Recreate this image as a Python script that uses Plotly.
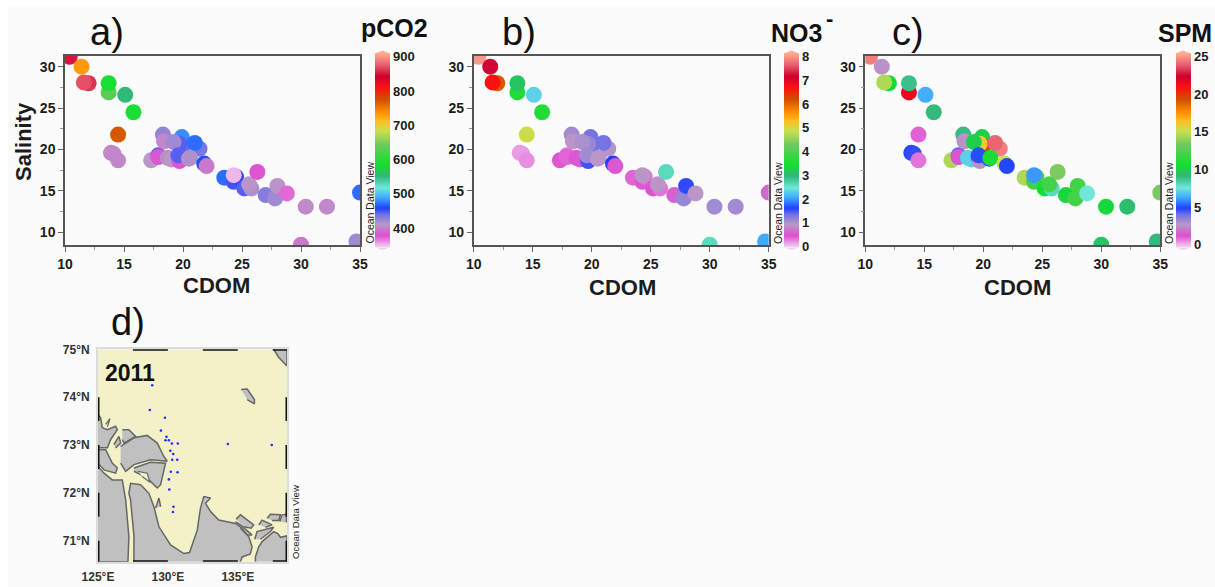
import plotly.graph_objects as go

W, H = 1215, 587

cdom = [10.4, 11.4, 12.0, 11.6, 13.7, 13.7, 15.1, 15.8, 14.5, 13.9, 14.1, 14.5, 17.3, 17.9, 17.9,
        18.3, 18.4, 18.7, 19.0, 19.9, 20.0, 19.7, 19.2, 19.6, 19.7, 19.6, 20.5, 21.4, 21.0, 20.6,
        21.8, 22.0, 23.5, 24.3, 24.5, 24.3, 25.2, 25.8, 25.6, 26.3, 27.0, 27.8, 28.0, 28.8,
        30.4, 32.2, 30.0, 34.7, 35.0]
salinity = [31.2, 30.0, 28.0, 28.1, 26.9, 28.0, 26.6, 24.5, 21.8, 19.6, 19.5, 18.7, 18.7, 19.3, 19.1,
            21.8, 21.0, 19.0, 18.8, 21.5, 20.4, 20.7, 20.9, 19.0, 18.6, 19.3, 18.9, 20.1, 20.8, 19.0,
            18.3, 18.0, 16.6, 16.1, 16.7, 16.9, 15.3, 15.3, 15.8, 17.3, 14.5, 14.1, 15.6, 14.7,
            13.1, 13.1, 8.5, 8.9, 14.8]
pco2 = [850, 730, 860, 870, 630, 590, 550, 590, 770, 402, 402, 402, 410, 445, 380,
        425, 402, 405, 410, 480, 440, 445, 420, 405, 375, 445, 402, 435, 470, 415,
        460, 395, 470, 450, 455, 350, 445, 415, 408, 375, 430, 420, 408, 370,
        403, 403, 395, 420, 470]
no3 = [8.0, 7.2, 6.1, 6.7, 3.6, 3.1, 2.3, 3.6, 4.9, 0.15, 0.15, 0.2, 0.4, 0.3, 0.35,
       1.05, 0.9, 0.4, 0.4, 1.3, 1.3, 1.1, 1.0, 0.5, 1.5, 1.05, 0.9, 0.95, 1.3, 0.9,
       1.6, 0.4, 0.35, 0.4, 0.3, 0.9, 0.45, 0.3, 0.9, 2.6, 0.55, 1.1, 1.55, 0.9,
       1.05, 1.05, 2.6, 2.05, 0.6]
spm = [24.5, 2.5, 10.5, 14.5, 21.5, 8.8, 6.3, 9.0, 0.9, 4.7, 4.6, 0.7, 14.5, 4.2, 1.2,
       8.9, 2.5, 7.0, 7.0, 10.0, 19.5, 16.0, 10.0, 5.5, 2.5, 5.0, 5.0, 24.5, 24.0, 11.0,
       15.0, 4.9, 14.5, 12.0, 12.0, 6.0, 10.5, 8.0, 12.0, 13.5, 10.3, 12.0, 12.0, 7.5,
       10.3, 9.3, 9.5, 9.0, 13.5]

station_lon = [128.88, 128.71, 129.79, 129.5, 129.9, 129.83, 130.07, 130.29, 130.71, 130.17, 130.38,
               130.31, 130.67, 130.21, 130.69, 130.07, 130.1, 130.4, 130.36, 134.29, 137.43]
station_lat = [74.25, 73.73, 73.57, 73.3, 73.17, 73.1, 73.1, 73.03, 73.03, 72.88, 72.81,
               72.69, 72.69, 72.44, 72.43, 72.28, 72.07, 71.71, 71.6, 73.02, 73.0]

land_lon = [127.57, 127.57, 127.33, 127.21, 127.33, 128.05, 128.64, 129.0, 129.36, 130.19, 131.14, 131.55,
            132.1, 132.33, 132.57, 133.05, 132.69, 133.05, 133.64, 134.83, 135.19, 135.79, 136.02, 135.9,
            135.31, 135.19, None,
            125, 125.43, 126.02, 126.74, 126.98, 127.21, 127.14, 125, None,
            125, 125.19, 125.31, 125.67, 126.26, 126.38, 125.9, 125.67, 125, None,
            125, 125.55, 126.02, 126.38, 126.26, 125.43, 125, None,
            126.74, 127.21, 127.69, 126.86, 126.74, None,
            126.14, 126.5, 126.62, 126.26, None,
            126.62, 127.57, 128.52, 129.24, 129.71, 129.95, 128.76, 127.57, 126.98, 126.62, None,
            127.57, 128.76, 129.83, 129.48, 129.24, 128.64, 128.05, 127.57, None,
            129.12, 129.36, 129.48, None,
            137.57, 137.93, 138.52, 138.52, None,
            135.24, 135.67, 136.19, 136.19, 135.67, None,
            136.26, 136.26, 136.5, 136.74, 137.57, 137.86, 138.05, 138.4, 138.52, 138.52, None,
            134.88, 135.19, 136.14, 135.95, 135.43, None,
            134.83, 135.19, 136.02, 135.67, 135.19, None,
            136.21, 136.38, 137.57, 137.33, 136.62, None,
            136.5, 136.74, 137.45, 136.98, None,
            137.1, 137.33, 138.05, 137.93, 137.45, None,
            138.0, 138.17, 138.48, 138.48]
land_lat = [70.56, 71.1, 71.85, 71.99, 72.2, 72.17, 71.99, 71.71, 71.29, 70.91, 70.73, 70.75,
            71.22, 71.68, 71.92, 71.89, 71.78, 71.61, 71.43, 71.36, 71.29, 71.08, 70.87, 70.72,
            70.66, 70.56, None,
            72.55, 72.41, 72.27, 72.27, 71.85, 71.08, 70.56, 70.56, None,
            73.64, 73.57, 73.36, 73.32, 73.39, 73.32, 73.11, 72.94, 72.94, None,
            72.9, 72.9, 72.62, 72.52, 72.41, 72.48, 72.62, None,
            73.32, 73.32, 73.18, 73.04, 73.11, None,
            73.01, 73.18, 73.04, 72.94, None,
            72.97, 73.15, 73.2, 73.04, 72.76, 72.66, 72.69, 72.59, 72.45, 72.62, None,
            72.52, 72.64, 72.62, 72.17, 72.1, 72.27, 72.38, 72.45, None,
            71.68, 71.89, 71.71, None,
            75, 74.83, 74.65, 75, None,
            74.16, 74.17, 73.95, 73.86, 73.95, None,
            70.56, 70.66, 70.87, 70.98, 71.19, 71.15, 71.07, 71.1, 71.1, 70.56, None,
            71.45, 71.54, 71.33, 71.26, 71.29, None,
            71.4, 71.33, 71.12, 71.12, 71.26, None,
            71.03, 71.19, 71.28, 71.19, 71.03, None,
            71.33, 71.43, 71.33, 71.28, None,
            71.47, 71.55, 71.54, 71.42, 71.42, None,
            71.4, 71.54, 71.55, 71.38]
lake_lon = [127.86, 128.52, 128.71, 128.17, None, 125.55, 125.86, 125.67]
lake_lat = [72.45, 72.41, 72.22, 72.34, None, 73.43, 73.55, 73.38]

frame_lon = [127.5, 130, None, 132.5, 135, None, 137.5, 138.52]
frame_lat = [74, 73.5, None, 73, 72.5, None, 72, 71.5, None, 71, 70.56]

odv = [[0, "#f2d0f0"], [.057, "#dd50d0"], [.117, "#b898c8"], [.168, "#7070e8"], [.2, "#2040ff"],
       [.254, "#40a8ff"], [.305, "#70e8d8"], [.365, "#30b878"], [.425, "#10e030"], [.528, "#70c860"],
       [.597, "#c8e050"], [.648, "#ffc020"], [.70, "#ff8800"], [.76, "#d05000"], [.82, "#ff1010"],
       [.88, "#d00030"], [.94, "#e86070"], [1, "#ffb090"]]

FONT = "Liberation Sans"
INK = "#1c1c1c"
YELLOW = "#f3f1c8"
def px_x(a, b): return [a / W, b / W]
def px_y(a, b): return [1 - b / H, 1 - a / H]

panels = [
    dict(vals=pco2, cmin=344, cmax=910, ticks=[400, 500, 600, 700, 800, 900], left=65.0, bar=375.0),
    dict(vals=no3, cmin=-0.04, cmax=8.15, ticks=list(range(9)), left=473.7, bar=784.0),
    dict(vals=spm, cmin=-0.36, cmax=25.45, ticks=[0, 5, 10, 15, 20, 25], left=865.3, bar=1175.5),
]

fig = go.Figure()
layout = dict(width=W, height=H, margin=dict(l=0, r=0, t=0, b=0, autoexpand=False), paper_bgcolor="white",
              plot_bgcolor="#fbfbfb", showlegend=False, font=dict(family=FONT, color=INK))
shapes = [dict(type="rect", xref="paper", yref="paper", x0=8 / W, x1=1, y0=0, y1=1 - 6 / H,
               fillcolor="#fbfbfb", line=dict(width=0), layer="below"),
          dict(type="rect", xref="x4", yref="y4", x0=125, x1=138.52, y0=70.56, y1=75,
               fillcolor=YELLOW, line=dict(width=0), layer="below")]

for i, p in enumerate(panels, start=1):
    s = "" if i == 1 else str(i)
    fig.add_trace(go.Scatter(
        x=cdom, y=salinity, mode="markers", xaxis=f"x{s}", yaxis=f"y{s}", hoverinfo="skip",
        marker=dict(size=16, color=p["vals"], cmin=p["cmin"], cmax=p["cmax"], colorscale=odv,
                    line=dict(width=0),
                    colorbar=dict(x=p["bar"] / W, xanchor="left", xpad=0, y=1 - 53.3 / H, yanchor="top", ypad=0,
                                  lenmode="pixels", len=194.4, thicknessmode="pixels", thickness=15,
                                  outlinewidth=0, tickmode="array", tickvals=p["ticks"], ticks="",
                                  tickfont=dict(family=FONT, size=13, color=INK, weight="bold")))))
    common = dict(tick0=10, dtick=5, ticks="outside", ticklen=5, tickcolor="#666", linecolor="#555", linewidth=1.5,
                  mirror=True, showgrid=False, zeroline=False, automargin=False,
                  minor=dict(dtick=2.5, tick0=10, ticks="outside", ticklen=3, tickcolor="#999"),
                  tickfont=dict(family=FONT, size=14, color=INK, weight="bold"))
    layout[f"xaxis{s}"] = dict(domain=px_x(p["left"], p["left"] + 295), range=[10, 35], anchor=f"y{s}", **common)
    layout[f"yaxis{s}"] = dict(domain=px_y(55.7, 245), range=[8.47, 31.33], anchor=f"x{s}", **common)
    # pointed ends of the colour bar
    shapes.append(dict(type="path", xref="paper", yref="paper", line=dict(width=0), fillcolor="#ffb090",
                       path=f"M {p['bar']/W} {1-53.5/H} L {(p['bar']+7.5)/W} {1-50.5/H} L {(p['bar']+15)/W} {1-53.5/H} Z"))
    shapes.append(dict(type="path", xref="paper", yref="paper", line=dict(width=0), fillcolor="#f2d0f0",
                       path=f"M {p['bar']/W} {1-247.5/H} L {(p['bar']+7.5)/W} {1-250/H} L {(p['bar']+15)/W} {1-247.5/H} Z"))

# map
fig.add_trace(go.Scatter(x=land_lon, y=land_lat, mode="lines", fill="toself", fillcolor="#c0c0c0",
                         line=dict(color="#666", width=1.5), xaxis="x4", yaxis="y4", hoverinfo="skip"))
fig.add_trace(go.Scatter(x=lake_lon, y=lake_lat, mode="lines", fill="toself", fillcolor=YELLOW,
                         line=dict(color="#666", width=1.2), xaxis="x4", yaxis="y4", hoverinfo="skip"))
fig.add_trace(go.Scatter(x=station_lon, y=station_lat, mode="markers", marker=dict(size=2.6, color="#2a2aff"),
                         xaxis="x4", yaxis="y4", hoverinfo="skip"))
for yv in (75, 70.56):
    fig.add_trace(go.Scatter(x=frame_lon, y=[yv if v is not None else None for v in frame_lon], mode="lines",
                             line=dict(color="#111", width=3), xaxis="x4", yaxis="y4", hoverinfo="skip", cliponaxis=False))
for xv in (125, 138.52):
    fig.add_trace(go.Scatter(x=[xv if v is not None else None for v in frame_lat], y=frame_lat, mode="lines",
                             line=dict(color="#111", width=3), xaxis="x4", yaxis="y4", hoverinfo="skip", cliponaxis=False))

layout["xaxis4"] = dict(domain=px_x(98, 287), range=[125, 138.52], tickmode="array", tickvals=[125, 130, 135],
                        ticktext=["125°E", "130°E", "135°E"], ticks="", showgrid=False, zeroline=False,
                        linecolor="#dcdcdc", linewidth=2, mirror=True, anchor="y4", automargin=False,
                        ticklabelstandoff=3,
                        tickfont=dict(family=FONT, size=12, color="#333", weight="bold"))
layout["yaxis4"] = dict(domain=px_y(349.3, 561.7), range=[70.56, 75], tickmode="array", tickvals=[71, 72, 73, 74, 75],
                        ticktext=["71°N", "72°N", "73°N", "74°N", "75°N"], ticks="", showgrid=False, zeroline=False,
                        linecolor="#dcdcdc", linewidth=2, mirror=True, anchor="x4", automargin=False,
                        ticklabelstandoff=4,
                        tickfont=dict(family=FONT, size=12, color="#333", weight="bold"))

def note(text, x, y, size, bold=False, angle=0, color="#111"):
    return dict(text=f"<b>{text}</b>" if bold else text, x=x / W, y=1 - y / H, xref="paper", yref="paper",
                showarrow=False, xanchor="center", yanchor="middle", textangle=angle,
                font=dict(family=FONT, size=size, color=color))

layout["annotations"] = [
    note("a)", 107, 32, 38), note("b)", 519, 32, 38), note("c)", 908, 32, 38), note("d)", 128, 322, 38),
    note("pCO2", 394, 28, 25, True), note("NO3", 796, 33, 25, True), note("SPM", 1185, 33, 25, True),
    note("-", 829, 18, 22, True),
    note("2011", 130, 373, 23, True),
    note("Salinity", 24, 142, 22, True, -90, INK),
    note("CDOM", 216, 285, 22, True, 0, INK), note("CDOM", 622, 288, 22, True, 0, INK), note("CDOM", 1017, 288, 22, True, 0, INK),
    note("Ocean Data View", 369.5, 203, 10.5, False, -90, "#222"),
    note("Ocean Data View", 778, 203, 10.5, False, -90, "#222"),
    note("Ocean Data View", 1169, 203, 10.5, False, -90, "#222"),
    note("Ocean Data View", 295, 522, 9.5, False, -90, "#222"),
]
layout["shapes"] = shapes
fig.update_layout(**layout)
fig.write_html("out.html", post_script="document.body.style.margin='0';",
               config=dict(displayModeBar=False))
